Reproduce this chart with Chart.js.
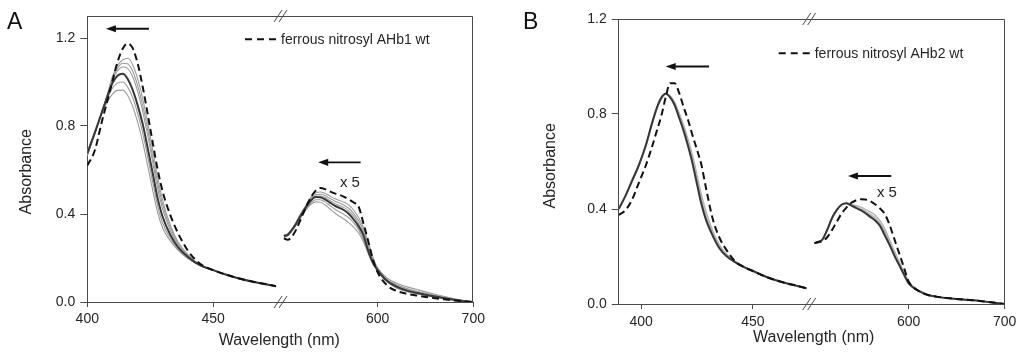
<!DOCTYPE html>
<html><head><meta charset="utf-8">
<script src="https://cdn.jsdelivr.net/npm/chart.js@4.4.1/dist/chart.umd.min.js"></script>
<style>
html,body{margin:0;padding:0;background:#fff;}
#wrap{position:relative;width:1024px;height:357px;overflow:hidden;background:#fff;}
canvas{position:absolute;top:0;}
.lbl{position:absolute;font-family:"Liberation Sans",Arial,Helvetica,sans-serif;font-size:23px;color:#111;line-height:normal;}
</style></head><body>
<div id="wrap">
<canvas id="cA" width="512" height="357" style="left:0"></canvas>
<canvas id="cB" width="512" height="357" style="left:512px"></canvas>
<div class="lbl" style="left:7px;top:8px">A</div>
<div class="lbl" style="left:523px;top:8px">B</div>
</div>
<script>
// ---------- tick labels ----------
const yTicks = [0, 0.4, 0.8, 1.2];
const xTicksLeft = [400, 450];
const xTicksRight = [600, 700];
const legendA = 'ferrous nitrosyl AHb1 wt';
const legendB = 'ferrous nitrosyl AHb2 wt';
const scaleNote = 'x 5';

// ---------- Panel A : Soret region ----------
const wlSoretA = [400,403,406,408,410,412,414,416,418,420,422,424,426,428,430,433,436,440,445,450,455,460,465,470,475];
const soretA_NO    = [0.62,0.69,0.83,0.915,1.005,1.09,1.15,1.175,1.155,1.085,0.98,0.855,0.725,0.60,0.50,0.395,0.315,0.233,0.172,0.145,0.125,0.108,0.094,0.083,0.072];
const soretA_final = [0.675,0.77,0.87,0.935,0.995,1.028,1.037,1.015,0.965,0.895,0.81,0.70,0.585,0.47,0.385,0.305,0.25,0.205,0.166,0.145,0.125,0.108,0.094,0.083,0.072];
const soretA_t1 = [0.665,0.765,0.87,0.945,1.025,1.075,1.10,1.108,1.08,1.015,0.925,0.815,0.69,0.565,0.46,0.35,0.275,0.215,0.168,0.145,0.125,0.108,0.094,0.083,0.072];
const soretA_t2 = [0.667,0.766,0.87,0.942,1.015,1.062,1.085,1.083,1.05,0.985,0.895,0.785,0.66,0.54,0.44,0.337,0.267,0.212,0.167,0.145,0.125,0.108,0.094,0.083,0.072];
const soretA_t3 = [0.67,0.768,0.87,0.94,1.008,1.05,1.068,1.062,1.025,0.958,0.868,0.758,0.635,0.515,0.42,0.325,0.26,0.209,0.167,0.145,0.125,0.108,0.094,0.083,0.072];
const soretA_t4 = [0.68,0.772,0.866,0.925,0.972,0.995,1.0,0.978,0.93,0.858,0.77,0.66,0.545,0.435,0.357,0.29,0.242,0.2,0.165,0.145,0.125,0.108,0.094,0.083,0.072];
const soretA_t5 = [0.685,0.773,0.86,0.91,0.945,0.962,0.963,0.94,0.89,0.818,0.728,0.62,0.508,0.405,0.335,0.278,0.236,0.197,0.164,0.145,0.125,0.108,0.094,0.083,0.072];

// ---------- Panel A : Q-band region (x 5) ----------
const wlQA = [502,506,510,515,520,525,530,535,540,545,550,555,560,565,570,575,580,585,590,595,600,610,620,630,640,650,660,670,680,690,700];
const qA_NO    = [0.29,0.283,0.295,0.33,0.38,0.43,0.475,0.505,0.518,0.513,0.503,0.494,0.487,0.478,0.466,0.452,0.435,0.36,0.28,0.195,0.135,0.075,0.05,0.038,0.03,0.023,0.017,0.012,0.007,0.003,0.0];
const qA_final = [0.30,0.305,0.325,0.357,0.395,0.43,0.46,0.477,0.476,0.467,0.452,0.438,0.428,0.417,0.40,0.375,0.345,0.305,0.235,0.18,0.145,0.095,0.07,0.053,0.042,0.033,0.025,0.017,0.01,0.004,0.0];
const qA_t1 = [0.305,0.31,0.33,0.365,0.405,0.44,0.475,0.495,0.50,0.494,0.482,0.47,0.462,0.453,0.44,0.417,0.385,0.34,0.275,0.205,0.155,0.108,0.085,0.07,0.058,0.046,0.035,0.025,0.015,0.007,0.0];
const qA_t2 = [0.302,0.308,0.328,0.362,0.40,0.437,0.47,0.487,0.49,0.484,0.471,0.459,0.45,0.44,0.425,0.402,0.37,0.325,0.262,0.195,0.15,0.102,0.078,0.062,0.05,0.04,0.03,0.021,0.012,0.005,0.0];
const qA_t3 = [0.30,0.306,0.326,0.36,0.398,0.434,0.465,0.481,0.482,0.475,0.461,0.448,0.439,0.429,0.413,0.39,0.357,0.312,0.25,0.188,0.147,0.098,0.073,0.057,0.046,0.036,0.027,0.019,0.011,0.005,0.0];
const qA_t4 = [0.298,0.303,0.322,0.353,0.39,0.423,0.45,0.465,0.465,0.455,0.439,0.423,0.41,0.398,0.382,0.36,0.33,0.285,0.228,0.175,0.142,0.092,0.065,0.05,0.04,0.031,0.023,0.016,0.009,0.004,0.0];
const qA_t5 = [0.296,0.301,0.32,0.35,0.386,0.418,0.443,0.455,0.453,0.442,0.424,0.405,0.39,0.376,0.36,0.34,0.315,0.275,0.222,0.172,0.14,0.09,0.063,0.048,0.038,0.03,0.022,0.015,0.008,0.004,0.0];

// ---------- Panel B : Soret region ----------
const wlSoretB = [390,393,396,399,402,405,407,409,411,413,415,417,419,421,423,425,427,429,432,435,438,442,446,450,455,460,465,470,474];
const soretB_NO    = [0.375,0.395,0.44,0.51,0.58,0.665,0.728,0.79,0.87,0.93,0.93,0.89,0.83,0.775,0.71,0.65,0.585,0.49,0.36,0.28,0.23,0.18,0.156,0.139,0.118,0.101,0.087,0.076,0.066];
const soretB_final = [0.40,0.455,0.52,0.585,0.665,0.765,0.825,0.868,0.885,0.87,0.838,0.785,0.73,0.665,0.592,0.505,0.42,0.355,0.288,0.235,0.203,0.176,0.155,0.139,0.118,0.101,0.087,0.076,0.066];
const soretB_t1 = [0.40,0.452,0.515,0.58,0.658,0.757,0.818,0.862,0.884,0.877,0.85,0.805,0.755,0.695,0.627,0.545,0.46,0.39,0.31,0.25,0.212,0.18,0.157,0.139,0.118,0.101,0.087,0.076,0.066];
const soretB_t2 = [0.40,0.453,0.517,0.582,0.661,0.76,0.821,0.865,0.885,0.874,0.843,0.796,0.743,0.68,0.61,0.525,0.44,0.372,0.30,0.243,0.208,0.178,0.156,0.139,0.118,0.101,0.087,0.076,0.066];
const soretB_t3 = [0.40,0.454,0.518,0.584,0.663,0.763,0.823,0.866,0.885,0.872,0.84,0.79,0.736,0.672,0.60,0.515,0.43,0.363,0.294,0.239,0.205,0.177,0.155,0.139,0.118,0.101,0.087,0.076,0.066];

// ---------- Panel B : Q-band region (x 5) ----------
const wlQB = [502,506,510,515,520,525,530,535,540,545,550,555,560,565,570,575,580,585,590,595,600,610,620,630,640,650,660,670,680,690,700];
const qB_NO    = [0.257,0.26,0.265,0.28,0.31,0.345,0.38,0.405,0.425,0.436,0.441,0.44,0.433,0.42,0.403,0.38,0.335,0.275,0.215,0.155,0.095,0.056,0.038,0.03,0.025,0.021,0.018,0.015,0.01,0.005,0.0];
const qB_final = [0.257,0.262,0.27,0.31,0.36,0.395,0.418,0.424,0.415,0.405,0.395,0.382,0.367,0.352,0.33,0.29,0.25,0.205,0.165,0.125,0.087,0.056,0.038,0.03,0.025,0.021,0.018,0.015,0.01,0.005,0.0];
const qB_t1 = [0.257,0.262,0.27,0.308,0.356,0.392,0.416,0.424,0.42,0.415,0.408,0.398,0.388,0.375,0.352,0.318,0.272,0.225,0.18,0.137,0.095,0.058,0.039,0.03,0.025,0.021,0.018,0.015,0.01,0.005,0.0];
const qB_t2 = [0.257,0.262,0.27,0.309,0.358,0.393,0.417,0.424,0.418,0.41,0.401,0.39,0.378,0.364,0.34,0.307,0.262,0.215,0.172,0.131,0.091,0.057,0.038,0.03,0.025,0.021,0.018,0.015,0.01,0.005,0.0];
const qB_t3 = [0.257,0.262,0.27,0.31,0.359,0.394,0.417,0.424,0.416,0.407,0.397,0.385,0.372,0.357,0.334,0.301,0.256,0.21,0.168,0.128,0.089,0.056,0.038,0.03,0.025,0.021,0.018,0.015,0.01,0.005,0.0];

// ---------- styling ----------
const FONT = '"Liberation Sans", Arial, Helvetica, sans-serif';
const TXT = '#262626';
const AX = '#4a4a4a';
Chart.defaults.font.family = FONT;
Chart.defaults.color = TXT;

const ST_NO = {borderColor:'#111', borderWidth:2, borderDash:[7,4]};
const ST_FIN = {borderColor:'#383838', borderWidth:2};
const ST_GA = {borderColor:'#9c9c9c', borderWidth:1.1};
const ST_GB = {borderColor:'#b0b0b0', borderWidth:1.3};

function series(wl, vals, axis, style) {
  return Object.assign({
    data: wl.map((w, i) => ({x: w, y: vals[i]})),
    xAxisID: axis, yAxisID: 'y',
    pointRadius: 0, pointHoverRadius: 0, pointHitRadius: 0,
    cubicInterpolationMode: 'monotone', fill: false
  }, style);
}

const decorPlugin = {
  id: 'decor',
  afterDatasetsDraw(chart, args, o) {
    const {ctx, chartArea: ca, scales} = chart;
    ctx.save();
    // frame top & right
    ctx.strokeStyle = AX; ctx.lineWidth = 1; ctx.setLineDash([]);
    const t = Math.round(ca.top) + 0.5, r = Math.round(ca.right) - 0.5;
    ctx.beginPath(); ctx.moveTo(ca.left, t); ctx.lineTo(r, t); ctx.lineTo(r, ca.bottom); ctx.stroke();
    // axis break marks
    const bx = scales.xL.right;
    [ca.top, ca.bottom].forEach(yy => {
      ctx.beginPath();
      ctx.moveTo(bx - 7, yy + 6); ctx.lineTo(bx + 1, yy - 6);
      ctx.moveTo(bx - 2, yy + 6); ctx.lineTo(bx + 6, yy - 6);
      ctx.stroke();
    });
    // arrows
    ctx.fillStyle = '#111'; ctx.strokeStyle = '#111'; ctx.lineWidth = 1.8;
    o.arrows.forEach(a => {
      const sx = scales[a.axis];
      const x1 = sx.getPixelForValue(a.from), x2 = sx.getPixelForValue(a.to);
      const yy = scales.y.getPixelForValue(a.y);
      ctx.beginPath(); ctx.moveTo(x1, yy); ctx.lineTo(x2 + 6, yy); ctx.stroke();
      ctx.beginPath(); ctx.moveTo(x2, yy); ctx.lineTo(x2 + 10, yy - 3.6); ctx.lineTo(x2 + 10, yy + 3.6); ctx.closePath(); ctx.fill();
    });
    // "x 5"
    ctx.fillStyle = TXT; ctx.font = '15px ' + FONT; ctx.textAlign = 'left'; ctx.textBaseline = 'middle';
    ctx.fillText(scaleNote, scales[o.note.axis].getPixelForValue(o.note.x), scales.y.getPixelForValue(o.note.y));
    // legend
    const lx = ca.right - o.legend.fromRight, ly = ca.top + o.legend.dy;
    ctx.strokeStyle = '#111'; ctx.lineWidth = 2; ctx.setLineDash([7, 5]);
    ctx.beginPath(); ctx.moveTo(lx - 36, ly); ctx.lineTo(lx - 4, ly); ctx.stroke();
    ctx.setLineDash([]);
    ctx.font = '14px ' + FONT; ctx.fillStyle = TXT;
    ctx.fillText(o.legend.text, lx, ly + 0.5);
    // axis titles
    ctx.font = '16px ' + FONT; ctx.textAlign = 'center';
    ctx.fillText('Wavelength (nm)', (ca.left + ca.right) / 2 + o.xTitle.dx, ca.bottom + o.xTitle.dy);
    ctx.save();
    ctx.translate(ca.left + o.yTitle.dx, (ca.top + ca.bottom) / 2 + o.yTitle.dy);
    ctx.rotate(-Math.PI / 2);
    ctx.fillText('Absorbance', 0, 0);
    ctx.restore();
    ctx.restore();
  }
};

function axisCommon(tickLen) {
  return {
    grid: {drawOnChartArea: false, drawTicks: true, tickLength: tickLen, color: AX, lineWidth: 1},
    border: {display: true, color: AX, width: 1}
  };
}

function buildChart(id, p) {
  return new Chart(document.getElementById(id), {
    type: 'line',
    data: {datasets: p.datasets},
    options: {
      responsive: false, animation: false, devicePixelRatio: 1,
      events: [],
      layout: {padding: {left: 0, right: p.padRight, top: p.padTop, bottom: 0}},
      plugins: {legend: {display: false}, tooltip: {enabled: false}, decor: p.decor},
      scales: {
        y: Object.assign({
          axis: 'y', type: 'linear', position: 'left', min: 0, max: p.yMax,
          afterBuildTicks: s => { s.ticks = yTicks.map(v => ({value: v})); },
          afterFit: s => { s.width = p.caLeft; },
          ticks: {callback: v => Number(v).toFixed(1), font: {size: 14}, color: TXT, padding: 5}
        }, axisCommon(7)),
        xL: Object.assign({
          axis: 'x', type: 'linear', position: 'bottom', stack: 'wl', stackWeight: p.wL,
          min: p.xLmin, max: p.xLmax,
          afterBuildTicks: s => { s.ticks = xTicksLeft.map(v => ({value: v})); },
          afterFit: s => { s.height = p.xH; },
          ticks: {font: {size: 14}, color: TXT, padding: p.xPad, maxRotation: 0, autoSkip: false}
        }, axisCommon(5)),
        xR: Object.assign({
          axis: 'x', type: 'linear', position: 'bottom', stack: 'wl', stackWeight: p.wR,
          min: p.xRmin, max: p.xRmax,
          afterBuildTicks: s => { s.ticks = xTicksRight.map(v => ({value: v})); },
          afterFit: s => { s.height = p.xH; },
          ticks: {font: {size: 14}, color: TXT, padding: p.xPad, maxRotation: 0, autoSkip: false}
        }, axisCommon(5))
      }
    },
    plugins: [decorPlugin]
  });
}

// ---------- Panel A ----------
buildChart('cA', {
  padTop: 16, padRight: 38.7, caLeft: 87.3, xH: 55, xPad: 4, yMax: 1.3,
  xLmin: 400, xLmax: 477, xRmin: 499, xRmax: 700, wL: 193.7, wR: 192.3,
  datasets: [
    series(wlSoretA, soretA_NO, 'xL', ST_NO), series(wlQA, qA_NO, 'xR', ST_NO),
    series(wlSoretA, soretA_final, 'xL', ST_FIN), series(wlQA, qA_final, 'xR', ST_FIN),
    series(wlSoretA, soretA_t1, 'xL', ST_GA), series(wlQA, qA_t1, 'xR', ST_GA),
    series(wlSoretA, soretA_t2, 'xL', ST_GA), series(wlQA, qA_t2, 'xR', ST_GA),
    series(wlSoretA, soretA_t3, 'xL', ST_GA), series(wlQA, qA_t3, 'xR', ST_GA),
    series(wlSoretA, soretA_t4, 'xL', ST_GA), series(wlQA, qA_t4, 'xR', ST_GA),
    series(wlSoretA, soretA_t5, 'xL', ST_GA), series(wlQA, qA_t5, 'xR', ST_GA)
  ],
  decor: {
    arrows: [{axis: 'xL', from: 424.5, to: 407.4, y: 1.242}, {axis: 'xR', from: 582.2, to: 537.9, y: 0.635}],
    note: {axis: 'xR', x: 560.6, y: 0.542},
    legend: {text: legendA, fromRight: 192.3, dy: 23.3},
    xTitle: {dx: -1, dy: 38.8},
    yTitle: {dx: -60.3, dy: 12.7}
  }
});

// ---------- Panel B ----------
buildChart('cB', {
  padTop: 19, padRight: 19.3, caLeft: 106.7, xH: 53, xPad: 4.3, yMax: 1.2,
  xLmin: 390, xLmax: 475.4, xRmin: 497, xRmax: 700, wL: 191, wR: 195,
  datasets: [
    series(wlSoretB, soretB_NO, 'xL', ST_NO), series(wlQB, qB_NO, 'xR', ST_NO),
    series(wlSoretB, soretB_final, 'xL', ST_FIN), series(wlQB, qB_final, 'xR', ST_FIN),
    series(wlSoretB, soretB_t1, 'xL', ST_GB), series(wlQB, qB_t1, 'xR', ST_GB),
    series(wlSoretB, soretB_t2, 'xL', ST_GB), series(wlQB, qB_t2, 'xR', ST_GB),
    series(wlSoretB, soretB_t3, 'xL', ST_GB), series(wlQB, qB_t3, 'xR', ST_GB)
  ],
  decor: {
    arrows: [{axis: 'xL', from: 430.4, to: 411, y: 1.0}, {axis: 'xR', from: 581.9, to: 536.8, y: 0.539}],
    note: {axis: 'xR', x: 567, y: 0.466},
    legend: {text: legendB, fromRight: 190, dy: 34.3},
    xTitle: {dx: 2, dy: 33.9},
    yTitle: {dx: -68.4, dy: 4.3}
  }
});
</script>
</body></html>
